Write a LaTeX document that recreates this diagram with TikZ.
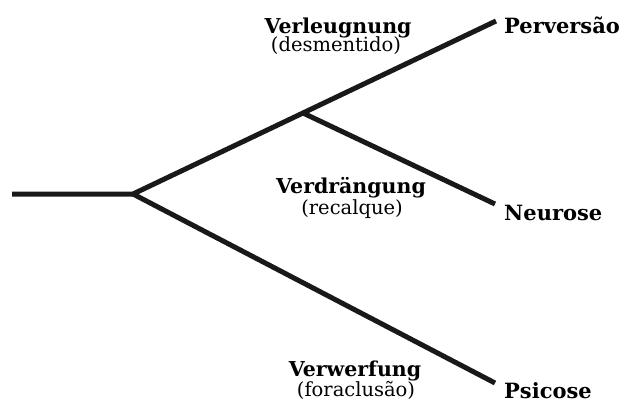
\documentclass[tikz,border=0pt]{standalone}
\usepackage{fontspec}
\setmainfont{DejaVu Serif}
\usetikzlibrary{positioning}

\tikzset{
  branch/.style={line width=5pt, color=black!90},
  term/.style={font=\bfseries\fontsize{21}{24}\selectfont, anchor=base west, inner sep=0pt},
  mech/.style={font=\bfseries\fontsize{20.5}{24}\selectfont, anchor=base, inner sep=0pt},
  gloss/.style={font=\fontsize{19.5}{22}\selectfont, anchor=base, inner sep=0pt}
}

\begin{document}
\begin{tikzpicture}[x=1pt,y=-1pt]
 \useasboundingbox (0,0) rectangle (624,402);

 \coordinate (in) at (12,194);
 \coordinate (fork) at (133,194);
 \coordinate (split) at (303,113);
 \coordinate (pend) at (496,21);
 \coordinate (nend) at (495,204);
 \coordinate (psend) at (495,383);

 \node[term] (perv) at (504,33) {Perversão};
 \node[term] (neur) at (504,220) {Neurose};
 \node[term] (psic) at (504,398) {Psicose};

 \node[mech] (verl) at (338,33) {Verleugnung};
 \node[gloss] (desm) at (336,51) {(desmentido)};

 \node[mech] (verd) at (351,193) {Verdrängung};
 \node[gloss] (reca) at (352,214) {(recalque)};

 \node[mech] (verw) at (355,376) {Verwerfung};
 \node[gloss] (fora) at (356,396) {(foraclusão)};

 \draw[branch] (in) -- (fork) -- (pend);
 \draw[branch] (fork) -- (psend);
 \draw[branch] (split) -- (nend);

\end{tikzpicture}
\end{document}
